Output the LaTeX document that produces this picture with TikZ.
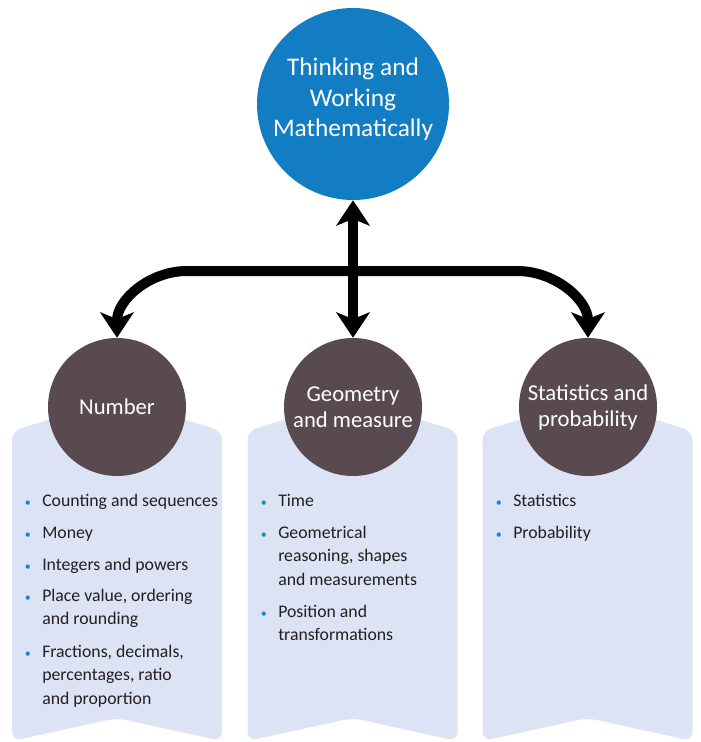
\documentclass[tikz,border=0pt]{standalone}
\usepackage{fontspec}
\setmainfont{Carlito}
\usetikzlibrary{arrows.meta}

\definecolor{twmblue}{HTML}{127DC2}
\definecolor{strandbrown}{HTML}{594A50}
\definecolor{ribbonfill}{HTML}{DCE3F4}
\definecolor{bulletblue}{HTML}{1A86CC}
\definecolor{itemtext}{HTML}{231F20}

\newcommand{\bul}{\llap{\textcolor{bulletblue}{\fontsize{9}{9}\selectfont\textbullet}\hspace{8.5pt}}}

\tikzset{
  twm/.style={circle, fill=twmblue, minimum size=144pt, inner sep=0pt},
  twmtext/.style={text=white, align=center, inner sep=0pt, font=\fontsize{19}{23}\selectfont},
  strand/.style={circle, fill=strandbrown, minimum size=103.5pt, inner sep=0pt, text=white,
    align=center, font=\fontsize{17}{19.5}\selectfont},
  % base anchor sits on the last line of an item
  item/.style={anchor=base west, align=left, inner sep=0pt, text=itemtext,
    font=\fontsize{13.3}{17.6}\selectfont},
  link/.style={line width=7.5pt, -{Stealth[length=19pt,width=25pt,inset=5pt]}},
}

\begin{document}
\begin{tikzpicture}[x=0.75pt,y=-0.75pt]
\useasboundingbox (0,0) rectangle (700,742);

% Ribbons behind the strands
\foreach \cx in {117,352.5,587.5}
  \fill[ribbonfill, rounded corners=7pt] (\cx-105,431) -- (\cx,399) -- (\cx+105,431)
    -- (\cx+105,741) -- (\cx,718) -- (\cx-105,741) -- cycle;

% Circles
\node[twm] (think) at (353,104) {};
\node[twmtext] (thinklabel) at ([yshift=3.5pt]think.center) {Thinking and\\Working\\Mathematically};
\node[strand] (num) at (117,407) {Number};
\node[strand] (geo) at (353,407) {Geometry\\and measure};
\node[strand] (stat) at (588,407) {Statistics and\\probability};

% Arrows
\coordinate (hub) at (353,271);
\coordinate (lbend) at (187,271);
\coordinate (rbend) at (517,271);
\draw[link] (hub) -- (lbend) to[out=180,in=90] (num.north);
\draw[link] (hub) -- (rbend) to[out=0,in=90] (stat.north);
\draw[link, {Stealth[length=19pt,width=25pt,inset=5pt]}-{Stealth[length=19pt,width=25pt,inset=5pt]}] (think.south) -- (geo.north);

% Number
\node[item] (n1) at (42,506) {\bul Counting and sequences};
\node[item] (n2) at (42,538) {\bul Money};
\node[item] (n3) at (42,570) {\bul Integers and powers};
\node[item] (n4) at (42,624.5) {\bul Place value, ordering\\and rounding};
\node[item] (n5) at (42,704) {\bul Fractions, decimals,\\percentages, ratio\\and proportion};

% Geometry and measure
\node[item] (g1) at (278,506) {\bul Time};
\node[item] (g2) at (278,585) {\bul Geometrical\\reasoning, shapes\\and measurements};
\node[item] (g3) at (278,640.5) {\bul Position and\\transformations};

% Statistics and probability
\node[item] (s1) at (513,506) {\bul Statistics};
\node[item] (s2) at (513,538) {\bul Probability};
\end{tikzpicture}
\end{document}
